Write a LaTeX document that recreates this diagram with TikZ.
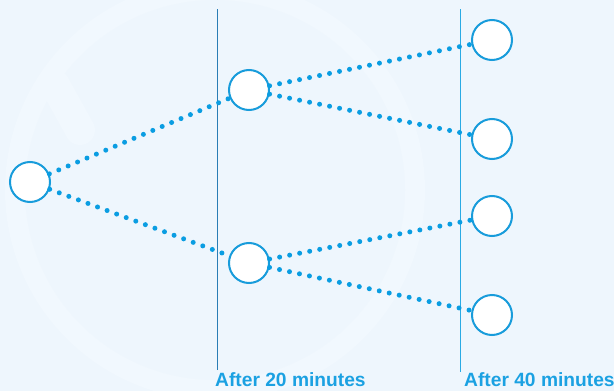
\documentclass[tikz,border=0pt]{standalone}
\usepackage{fontspec}
\setmainfont{Liberation Sans}
\definecolor{bgc}{HTML}{EEF6FD}
\definecolor{wmc}{HTML}{F1F8FE}
\definecolor{circc}{HTML}{189CDB}
\definecolor{dotc}{HTML}{0A9DE2}
\definecolor{lineA}{HTML}{2A7DB5}
\definecolor{lineB}{HTML}{2AAAE4}
\definecolor{txtc}{HTML}{1BA1E2}
\tikzset{
  stage/.style={circle, draw=circc, line width=2pt, fill=white, minimum size=40pt, inner sep=0pt},
  dotline/.style={dotc, line width=5pt, line cap=round, dash pattern=on 0pt off 10.2pt},
  lbl/.style={text=txtc, font=\bfseries\fontsize{19.2}{21}\selectfont, anchor=base west, inner sep=0pt}
}
\begin{document}
\begin{tikzpicture}[x=1pt,y=-1pt]
\fill[bgc] (0,0) rectangle (614,391);
\useasboundingbox (0,0) rectangle (614,391);
% faint watermark
\fill[wmc] (215,190) circle (210);
\fill[bgc] (215,190) circle (190);
\draw[wmc, line width=30pt, line cap=round] (55,85) -- (80,130);
% vertical lines
\coordinate (v1t) at (217,9);
\coordinate (v1b) at (217,370);
\coordinate (v2t) at (460,9);
\coordinate (v2b) at (460,372);
\draw[lineA, line width=0.9pt] (v1t) -- (v1b);
\draw[lineB, line width=1pt] (v2t) -- (v2b);
% nodes
\node[stage] (s) at (30,182) {};
\node[stage] (m1) at (249,90) {};
\node[stage] (m2) at (249,263) {};
\node[stage] (r1) at (492,40) {};
\node[stage] (r2) at (492,139) {};
\node[stage] (r3) at (492,216) {};
\node[stage] (r4) at (492,315) {};
% dotted connectors
\draw[dotline] (s) -- (m1);
\draw[dotline] (s) -- (m2);
\draw[dotline] (m1) -- (r1);
\draw[dotline] (m1) -- (r2);
\draw[dotline] (m2) -- (r3);
\draw[dotline] (m2) -- (r4);
% labels
\node[lbl] (l1) at (215,386) {After 20 minutes};
\node[lbl] (l2) at (464,386) {After 40 minutes};
\end{tikzpicture}
\end{document}
